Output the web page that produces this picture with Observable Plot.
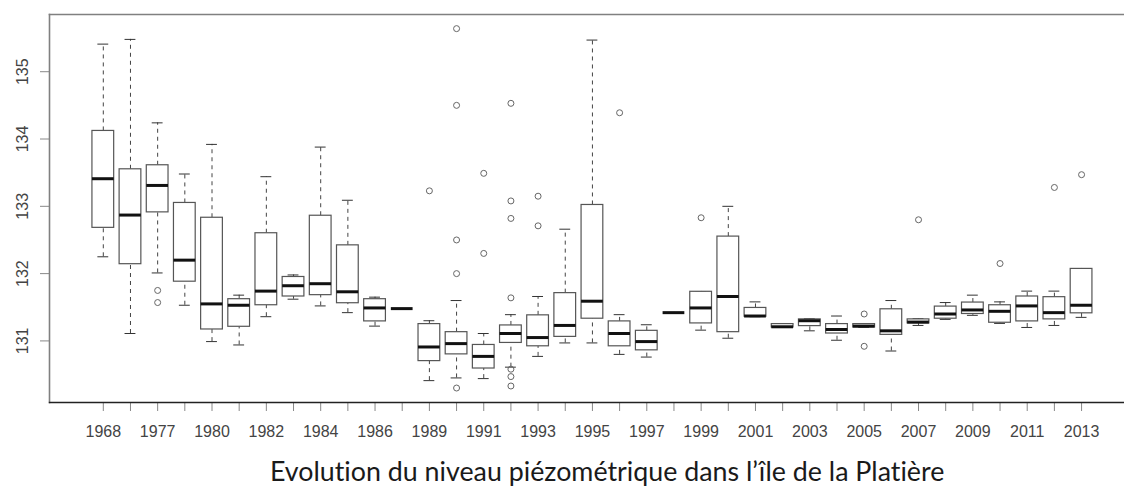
<!DOCTYPE html>
<html><head><meta charset="utf-8">
<script src="https://cdn.jsdelivr.net/npm/d3@7"></script>
<script src="https://cdn.jsdelivr.net/npm/@observablehq/plot@0.6"></script>
<style>
html,body{margin:0;padding:0;background:#fff;overflow:hidden;width:1124px;height:488px;position:relative}
#chart{position:absolute;left:0;top:0}
#title{position:absolute;left:270px;top:458px;white-space:nowrap;font-family:Lato,'Open Sans',sans-serif;font-size:26.8px;line-height:26.8px;color:#1a1a1a;font-variant-ligatures:none}
</style></head><body>
<div id="chart"></div>
<div id="title">Evolution du niveau piézométrique dans l’île de la Platière</div>
<script>
const years = [1968,1976,1977,1979,1980,1981,1982,1983,1984,1985,1986,1988,1989,1990,1991,1992,1993,1994,1995,1996,1997,1998,1999,2000,2001,2002,2003,2004,2005,2006,2007,2008,2009,2010,2011,2012,2013];
const whiskerLow = [132.25,131.11,132.01,131.53,130.99,130.94,131.36,131.62,131.52,131.42,131.22,131.48,130.41,130.45,130.44,130.61,130.77,130.97,130.97,130.80,130.76,131.42,131.16,131.04,131.36,131.20,131.15,131.01,131.20,130.85,131.23,131.32,131.38,131.26,131.20,131.23,131.35];
const q1 = [132.68,132.14,132.91,131.88,131.17,131.21,131.53,131.66,131.68,131.56,131.29,131.48,130.70,130.80,130.59,130.97,130.92,131.06,131.33,130.92,130.86,131.42,131.26,131.13,131.36,131.20,131.22,131.11,131.20,131.09,131.26,131.33,131.40,131.27,131.29,131.32,131.41];
const median = [133.41,132.87,133.31,132.20,131.55,131.53,131.74,131.82,131.85,131.73,131.49,131.48,130.91,130.96,130.77,131.11,131.05,131.23,131.59,131.11,130.99,131.42,131.49,131.66,131.37,131.21,131.30,131.17,131.22,131.15,131.28,131.40,131.46,131.44,131.52,131.42,131.53];
const q3 = [134.12,133.55,133.61,133.05,132.83,131.62,132.60,131.95,132.86,132.42,131.62,131.48,131.25,131.13,130.94,131.23,131.38,131.71,133.02,131.29,131.15,131.42,131.73,132.55,131.49,131.25,131.32,131.25,131.25,131.47,131.32,131.51,131.57,131.53,131.66,131.65,132.07];
const whiskerHigh = [135.41,135.48,134.24,133.48,133.92,131.68,133.44,131.98,133.88,133.09,131.65,131.48,131.30,131.60,131.11,131.39,131.66,132.66,135.47,131.39,131.24,131.42,131.73,133.00,131.58,131.25,131.33,131.37,131.25,131.60,131.33,131.57,131.68,131.58,131.74,131.74,132.07];
const outlierGroup = [3,3,13,14,14,14,14,14,15,15,16,16,16,16,16,16,16,17,17,20,23,29,29,31,34,36,37];
const outlierValue = [131.75,131.57,133.23,135.64,134.50,132.50,132.00,130.30,133.49,132.30,134.53,133.08,132.82,131.64,130.58,130.47,130.33,133.15,132.71,134.39,132.83,131.40,130.92,132.80,132.15,133.28,133.47];
const yTicks = [131,132,133,134,135];

const groups = years.map((y, k) => ({i: k + 1, year: y, lo: whiskerLow[k], q1: q1[k], med: median[k], q3: q3[k], hi: whiskerHigh[k]}));
const outliers = outlierGroup.map((g, k) => ({i: g, v: outlierValue[k]}));
const half = 0.4, cap = 0.2;

const chart = Plot.plot({
  width: 1124, height: 450,
  marginLeft: 49, marginRight: 0, marginTop: 14, marginBottom: 48,
  style: {background: "white", fontFamily: "'Liberation Sans', Arial, sans-serif", fontSize: "16px", color: "#444"},
  x: {type: "linear", domain: [-0.98, 38.58], label: null},
  y: {domain: [130.085, 135.85], label: null},
  marks: [
    Plot.ruleX(groups, {x: "i", y1: "q3", y2: "hi", stroke: "#444", strokeDasharray: "4,4"}),
    Plot.ruleX(groups, {x: "i", y1: "lo", y2: "q1", stroke: "#444", strokeDasharray: "4,4"}),
    Plot.ruleY(groups, {y: "hi", x1: d => d.i - cap, x2: d => d.i + cap, stroke: "#333"}),
    Plot.ruleY(groups, {y: "lo", x1: d => d.i - cap, x2: d => d.i + cap, stroke: "#333"}),
    Plot.rect(groups, {x1: d => d.i - half, x2: d => d.i + half, y1: "q1", y2: "q3", fill: "white", stroke: "#555", strokeWidth: 1.2}),
    Plot.ruleY(groups, {y: "med", x1: d => d.i - half, x2: d => d.i + half, stroke: "#111", strokeWidth: 3}),
    Plot.dot(outliers, {x: "i", y: "v", r: 3, stroke: "#666", fill: "none", strokeWidth: 1}),
    Plot.axisX({ticks: groups.map(d => d.i), tickFormat: d => ((d - 1) % 2 === 0 ? String(years[d - 1]) : ""), tickSize: 9, tickPadding: 14, stroke: "#888", fill: "#444", label: null}),
    Plot.axisY({ticks: yTicks, tickFormat: d => String(d), tickSize: 9, tickRotate: -90, tickPadding: 13, stroke: "#888", fill: "#444", label: null}),
    Plot.frame({anchor: "top", stroke: "#808080", strokeWidth: 1.6}),
    Plot.frame({anchor: "left", stroke: "#808080", strokeWidth: 1.6}),
    Plot.frame({anchor: "bottom", stroke: "#222", strokeWidth: 1.4})
  ]
});
document.getElementById("chart").appendChild(chart);
</script>
</body></html>
